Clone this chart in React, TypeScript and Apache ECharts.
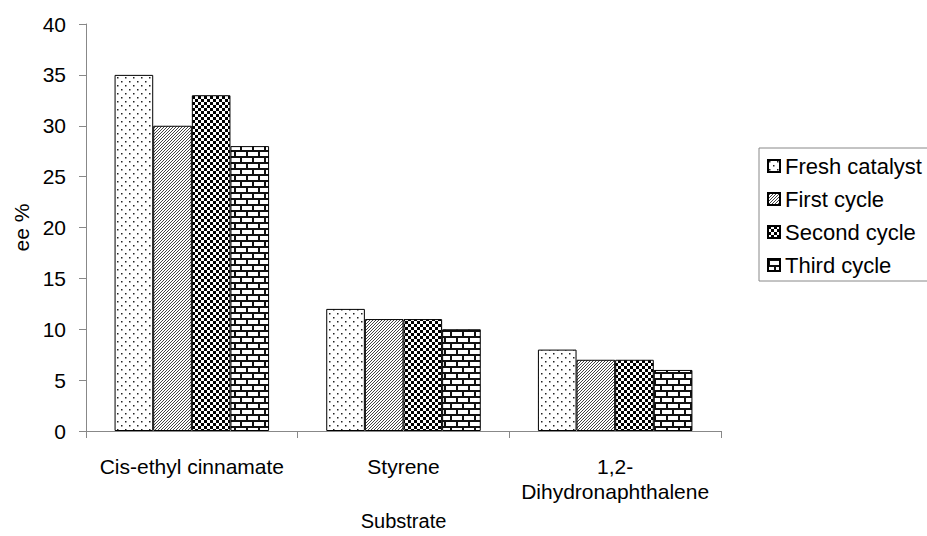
import React, { useEffect, useRef } from "react";
import * as echarts from "echarts";

const categories = ["Cis-ethyl cinnamate", "Styrene", "1,2-Dihydronaphthalene"];
const seriesNames = ["Fresh catalyst", "First cycle", "Second cycle", "Third cycle"];
const freshCatalyst = [35, 12, 8];
const firstCycle = [30, 11, 7];
const secondCycle = [33, 11, 7];
const thirdCycle = [28, 10, 6];
const yTicks = { min: 0, max: 40, interval: 5 };

const FONT = "'Liberation Sans', Arial, Helvetica, sans-serif";

function makeCanvas(w: number, h: number) {
  const c = document.createElement("canvas");
  c.width = w;
  c.height = h;
  const ctx = c.getContext("2d")!;
  ctx.fillStyle = "#fff";
  ctx.fillRect(0, 0, w, h);
  return { c, ctx };
}

function dotsPattern() {
  const { c, ctx } = makeCanvas(8, 8);
  ctx.fillStyle = "#222";
  ctx.fillRect(1, 1, 1.5, 1.5);
  ctx.fillRect(5, 5, 1.5, 1.5);
  return c;
}

function hatchPattern() {
  const { c, ctx } = makeCanvas(3, 3);
  ctx.fillStyle = "#444";
  for (let i = 0; i < 3; i++) {
    ctx.fillRect(i, 2 - i, 1, 1);
  }
  return c;
}

function checkerPattern() {
  const { c, ctx } = makeCanvas(6, 6);
  ctx.fillStyle = "#000";
  ctx.fillRect(0, 0, 3, 3);
  ctx.fillRect(3, 3, 3, 3);
  return c;
}

function brickPattern() {
  const { c, ctx } = makeCanvas(12, 12);
  ctx.fillStyle = "#111";
  ctx.fillRect(0, 0, 12, 2);
  ctx.fillRect(0, 6, 12, 2);
  ctx.fillRect(0, 0, 2, 6);
  ctx.fillRect(6, 6, 2, 6);
  return c;
}

export default function App() {
  const ref = useRef<HTMLDivElement>(null);

  useEffect(() => {
    if (!ref.current) return;
    const chart = echarts.init(ref.current, null, { renderer: "svg" });
    const patterns = [dotsPattern(), hatchPattern(), checkerPattern(), brickPattern()];
    const values = [freshCatalyst, firstCycle, secondCycle, thirdCycle];

    chart.setOption({
      animation: false,
      backgroundColor: "#fff",
      textStyle: { fontFamily: FONT, color: "#000" },
      grid: { left: 86, right: 206, top: 24, bottom: 104, containLabel: false },
      legend: {
        orient: "vertical",
        left: 759,
        top: 148,
        icon: "rect",
        itemWidth: 12,
        itemHeight: 12,
        itemGap: 11,
        padding: [7, 14, 5, 8],
        borderColor: "#888",
        borderWidth: 1,
        backgroundColor: "#fff",
        textStyle: { fontSize: 22, lineHeight: 22, fontFamily: FONT, color: "#000" },
        data: seriesNames,
      },
      xAxis: {
        type: "category",
        data: categories,
        name: "Substrate",
        nameLocation: "middle",
        nameGap: 80,
        nameTextStyle: { fontSize: 20, fontFamily: FONT, color: "#000" },
        axisLine: { lineStyle: { color: "#888", width: 1 } },
        axisTick: { show: true, interval: 0, length: 7, lineStyle: { color: "#888" } },
        axisLabel: {
          interval: 0,
          margin: 23,
          fontSize: 21,
          lineHeight: 25,
          color: "#000",
          fontFamily: FONT,
          formatter: (v: string) => v.replace("1,2-", "1,2-\n"),
        },
      },
      yAxis: {
        type: "value",
        min: yTicks.min,
        max: yTicks.max,
        interval: yTicks.interval,
        name: "ee %",
        nameLocation: "middle",
        nameRotate: 90,
        nameGap: 54,
        nameTextStyle: { fontSize: 21, fontFamily: FONT, color: "#000" },
        axisLine: { show: true, lineStyle: { color: "#888", width: 1 } },
        axisTick: { show: true, length: 7, lineStyle: { color: "#888" } },
        splitLine: { show: false },
        axisLabel: { margin: 20, fontSize: 21, color: "#000", fontFamily: FONT },
      },
      series: seriesNames.map((name, i) => ({
        name,
        type: "bar",
        data: values[i],
        barGap: "0%",
        barCategoryGap: "27%",
        itemStyle: {
          color: { image: patterns[i], repeat: "repeat" },
          borderColor: "#000",
          borderWidth: 1,
        },
        emphasis: { disabled: true },
      })),
    });

    return () => chart.dispose();
  }, []);

  return <div ref={ref} style={{ width: 927, height: 536, position: "absolute", left: 0, top: 0 }} />;
}
